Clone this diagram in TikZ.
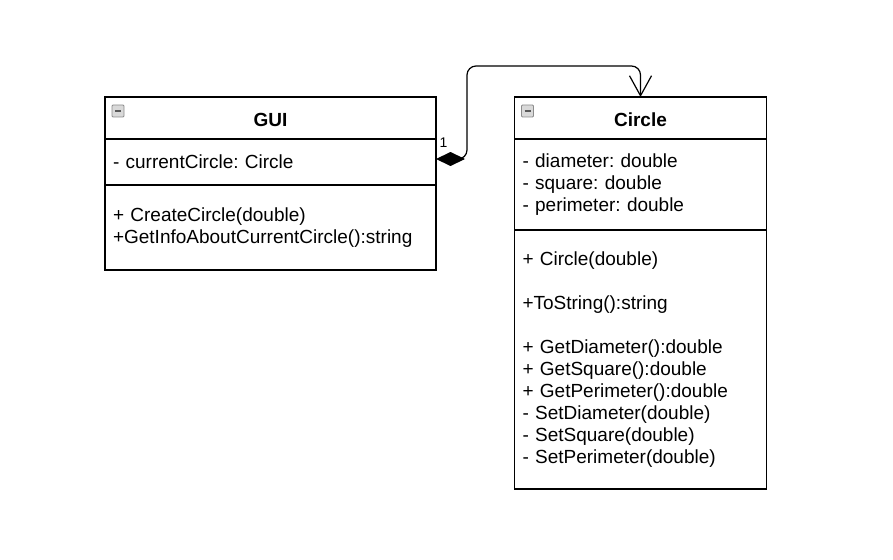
\documentclass[tikz,border=0pt]{standalone}
\usepackage{fontspec}
\setmainfont{Liberation Sans}
\usetikzlibrary{positioning}
\usetikzlibrary{arrows.meta}
\frenchspacing

\begin{document}
\begin{tikzpicture} [x=1pt,y=-1pt,
  every node/.style={font=\fontsize{19}{22}\selectfont},
  box/.style={draw, line width=1.2pt, outer sep=0pt, inner xsep=8pt, inner ysep=0pt, align=left},
  head/.style={box, font=\fontsize{19}{22}\selectfont\bfseries, align=center, text height=17pt, text depth=0pt},
  icon/.style={draw=gray!90, fill=gray!30, line width=.9pt, minimum size=12pt, inner sep=0pt, rounded corners=1pt,
    path picture={\draw[black!65, line width=1.8pt] ([xshift=3pt]path picture bounding box.west) -- ([xshift=-3pt]path picture bounding box.east);}}]
\useasboundingbox (0,0) rectangle (893,559);

\node[head, minimum width=331pt, minimum height=42pt] (guihead) at (270.5,118) {GUI};
\node[box, below=0pt of guihead, minimum height=46pt, text width=315pt] (guiattr) {- currentCircle: Circle};
\node[box, below=0pt of guiattr, minimum height=85pt, text width=315pt] (guimeth) {+ CreateCircle(double)\\+GetInfoAboutCurrentCircle():string};

\node[head, minimum width=252pt, minimum height=42pt] (circlehead) at (640.5,118) {Circle};
\node[box, below=0pt of circlehead, minimum height=91pt, text width=236pt] (circleattr) {- diameter: double\\- square: double\\- perimeter: double};
\node[box, below=0pt of circleattr, minimum height=259pt, text width=236pt] (circlemeth) {+ Circle(double)\\[22pt]+ToString():string\\[22pt]+ GetDiameter():double\\+ GetSquare():double\\+ GetPerimeter():double\\- SetDiameter(double)\\- SetSquare(double)\\- SetPerimeter(double)};

\foreach \c in {guihead,circlehead} \node[icon] (\c-icon) at ([xshift=13pt,yshift=-14pt]\c.north west) {};

\draw[line width=1.2pt, rounded corners=9pt, {Diamond[length=29pt,width=14pt]}-{Straight Barb[length=20pt,width=22pt]}] ([yshift=3pt]guiattr.east) -- ++(31,0) |- ([yshift=31pt]circlehead.north) -- (circlehead.north);
\node[font=\fontsize{14}{16}\selectfont, anchor=base west, inner sep=0pt] (mult) at ([xshift=3.5pt,yshift=15pt]guiattr.east) {1};

\end{tikzpicture}
\end{document}
